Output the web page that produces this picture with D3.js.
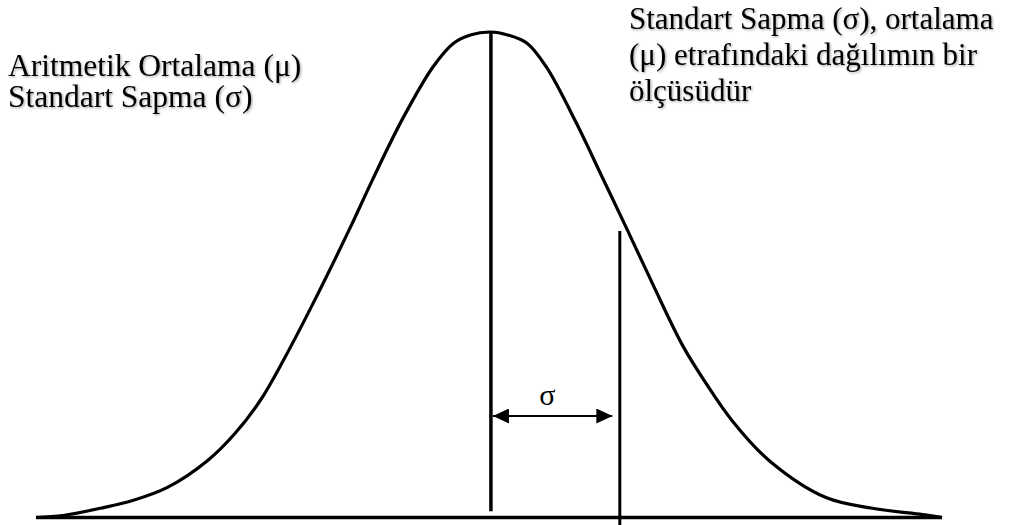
<!DOCTYPE html>
<html>
<head>
<meta charset="utf-8">
<script src="https://cdn.jsdelivr.net/npm/d3@7"></script>
<style>
  body { margin: 0; background: #fff; }
  svg { display: block; }
  text { font-family: "Liberation Serif", "Times New Roman", serif; fill: #000; }
</style>
</head>
<body>
<div id="chart"></div>
<script>
// curve: x in sigma units from the mean, y as share of the peak height
const curve_x = [-3.53, -3.32, -3.03, -2.78, -2.51, -2.20, -1.99, -1.79, -1.61, -1.38, -1.09, -0.92, -0.69, -0.45, -0.29, -0.16, 0,
                 0.13, 0.28, 0.43, 0.66, 0.86, 1.05, 1.26, 1.49, 1.67, 1.87, 2.16, 2.60, 2.96, 3.35, 3.50]
const curve_y = [0, 0.004, 0.019, 0.035, 0.062, 0.117, 0.172, 0.241, 0.324, 0.441, 0.598, 0.695, 0.819, 0.928, 0.977, 0.994, 1,
                 0.994, 0.977, 0.928, 0.814, 0.703, 0.597, 0.478, 0.353, 0.276, 0.200, 0.117, 0.041, 0.019, 0.006, 0]

const mean_x = 0
const sigma_x = 1
const sigma_label = "σ"
const left_lines = ["Aritmetik Ortalama (μ)", "Standart Sapma (σ)"]
const right_lines = ["Standart Sapma (σ), ortalama", "(μ) etrafındaki dağılımın bir", "ölçüsüdür"]

const width = 1012, height = 525

const svg = d3.select("#chart")
    .append("svg")
    .attr("width", width)
    .attr("height", height)

const defs = svg.append("defs")
defs.append("filter")
    .attr("id", "shadow")
    .attr("x", "-5%").attr("y", "-20%")
    .attr("width", "110%").attr("height", "140%")
    .append("feDropShadow")
    .attr("dx", 1.2).attr("dy", 1.2)
    .attr("stdDeviation", 0.8)
    .attr("flood-color", "#000")
    .attr("flood-opacity", 0.35)

defs.append("marker")
    .attr("id", "arrow")
    .attr("viewBox", "0 0 16 15")
    .attr("refX", 16).attr("refY", 7.5)
    .attr("markerWidth", 16).attr("markerHeight", 15)
    .attr("markerUnits", "userSpaceOnUse")
    .attr("orient", "auto-start-reverse")
    .append("path")
    .attr("d", "M0,0L16,7.5L0,15Z")
    .attr("fill", "#000")

const x = d3.scaleLinear()
    .domain([d3.min(curve_x), d3.max(curve_x)])
    .range([36, 942])
const y = d3.scaleLinear()
    .domain([0, 1])
    .range([517.5, 32])

const points = curve_x.map((v, i) => ({x: v, y: curve_y[i]}))

// baseline
svg.append("line")
    .attr("x1", x(d3.min(curve_x))).attr("x2", x(d3.max(curve_x)))
    .attr("y1", y(0)).attr("y2", y(0))
    .attr("stroke", "#000")
    .attr("stroke-width", 3.5)

// bell curve
svg.append("path")
    .datum(points)
    .attr("fill", "none")
    .attr("stroke", "#000")
    .attr("stroke-width", 3.2)
    .attr("stroke-linejoin", "round")
    .attr("d", d3.line()
        .curve(d3.curveCatmullRom.alpha(0.5))
        .x(d => x(d.x))
        .y(d => y(d.y)))

// mean line
svg.append("line")
    .attr("x1", x(mean_x)).attr("x2", x(mean_x))
    .attr("y1", y(1)).attr("y2", y(0.013))
    .attr("stroke", "#000")
    .attr("stroke-width", 3.5)

// sigma line
svg.append("line")
    .attr("x1", x(sigma_x)).attr("x2", x(sigma_x))
    .attr("y1", y(0.59)).attr("y2", height)
    .attr("stroke", "#000")
    .attr("stroke-width", 3)

// double arrow between mean and sigma
const arrow_y = 416
svg.append("line")
    .attr("x1", x(mean_x) + 2).attr("x2", x(sigma_x) - 7.5)
    .attr("y1", arrow_y).attr("y2", arrow_y)
    .attr("stroke", "#000")
    .attr("stroke-width", 2.2)
    .attr("marker-start", "url(#arrow)")
    .attr("marker-end", "url(#arrow)")

svg.append("text")
    .attr("x", (x(mean_x) + x(sigma_x)) / 2 - 8)
    .attr("y", 405)
    .attr("text-anchor", "middle")
    .style("font-size", "30px")
    .text(sigma_label)

// left note
svg.append("g")
    .attr("filter", "url(#shadow)")
    .selectAll("text")
    .data(left_lines)
    .enter()
    .append("text")
    .attr("x", 8)
    .attr("y", (d, i) => 76 + i * 31)
    .style("font-size", "31.5px")
    .text(d => d)

// right note
svg.append("g")
    .attr("filter", "url(#shadow)")
    .selectAll("text")
    .data(right_lines)
    .enter()
    .append("text")
    .attr("x", 629)
    .attr("y", (d, i) => 29 + i * 36)
    .style("font-size", "31px")
    .text(d => d)
</script>
</body>
</html>
